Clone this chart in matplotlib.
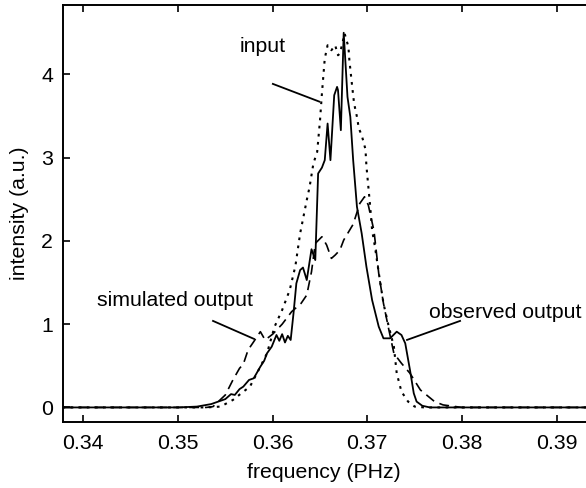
import matplotlib
matplotlib.use("Agg")
import matplotlib.pyplot as plt

plt.rcParams['font.family'] = ['Liberation Sans', 'DejaVu Sans']

# observed output (solid)
obs_x = [0.3378, 0.3500, 0.3520, 0.3535, 0.3550, 0.3556, 0.3560, 0.3565, 0.3569, 0.3575,
         0.3580, 0.3584, 0.3587, 0.3591, 0.3594, 0.3599, 0.3604, 0.3607, 0.3610, 0.3613,
         0.3616, 0.3619, 0.3622, 0.3625, 0.3629, 0.3632, 0.3636, 0.3641, 0.3645, 0.3648,
         0.3652, 0.3655, 0.3658, 0.3661, 0.3665, 0.3668, 0.3669, 0.3672, 0.3675, 0.3679,
         0.3682, 0.3685, 0.3689, 0.3694, 0.3699, 0.3705, 0.3712, 0.3717, 0.3724, 0.3731,
         0.3736, 0.3740, 0.3745, 0.3749, 0.3752, 0.3758, 0.3766, 0.3935]
obs_y = [0.0, 0.0, 0.01, 0.04, 0.10, 0.16, 0.15, 0.22, 0.25, 0.33,
         0.35, 0.43, 0.49, 0.56, 0.65, 0.73, 0.87, 0.80, 0.88, 0.78,
         0.86, 0.81, 1.13, 1.49, 1.65, 1.68, 1.53, 1.90, 1.77, 2.81,
         2.88, 2.97, 3.41, 2.97, 3.75, 3.85, 3.81, 3.33, 4.50, 3.73,
         3.49, 2.97, 2.41, 2.09, 1.69, 1.29, 0.97, 0.83, 0.83, 0.91,
         0.87, 0.77, 0.45, 0.17, 0.07, 0.02, 0.0, 0.0]

# input (dotted)
inp_x = [0.3378, 0.3530, 0.3545, 0.3558, 0.3568, 0.3576, 0.3587, 0.3594, 0.3602, 0.3610,
         0.3618, 0.3624, 0.3629, 0.3636, 0.3639, 0.3643, 0.3647, 0.3650, 0.3652, 0.3654,
         0.3655, 0.3658, 0.3662, 0.3666, 0.3669, 0.3671, 0.3676, 0.3680, 0.3681, 0.3684,
         0.3686, 0.3689, 0.3691, 0.3694, 0.3698, 0.3699, 0.3703, 0.3705, 0.3708, 0.3712,
         0.3717, 0.3722, 0.3728, 0.3731, 0.3736, 0.3743, 0.3750, 0.3760, 0.3935]
inp_y = [0.0, 0.0, 0.01, 0.09, 0.18, 0.25, 0.49, 0.65, 0.97, 1.17,
         1.41, 1.70, 2.09, 2.49, 2.65, 2.93, 3.07, 3.45, 3.77, 4.05,
         4.19, 4.35, 4.29, 4.35, 4.23, 4.25, 4.49, 4.33, 4.17, 3.85,
         3.65, 3.49, 3.35, 3.27, 3.10, 2.90, 2.41, 2.13, 1.93, 1.62,
         1.25, 1.00, 0.73, 0.41, 0.19, 0.07, 0.01, 0.0, 0.0]

# simulated output (dashed)
sim_x = [0.3378, 0.3530, 0.3537, 0.3550, 0.3558, 0.3565, 0.3569, 0.3574, 0.3580, 0.3587,
         0.3592, 0.3600, 0.3610, 0.3620, 0.3630, 0.3636, 0.3641, 0.3645, 0.3652, 0.3657,
         0.3662, 0.3666, 0.3671, 0.3675, 0.3685, 0.3692, 0.3697, 0.3701, 0.3707, 0.3712,
         0.3717, 0.3722, 0.3728, 0.3736, 0.3745, 0.3756, 0.3771, 0.3780, 0.3800, 0.3935]
sim_y = [0.0, 0.0, 0.01, 0.15, 0.33, 0.47, 0.52, 0.69, 0.79, 0.91,
         0.81, 0.88, 1.00, 1.15, 1.25, 1.35, 1.63, 1.97, 2.05, 1.95,
         1.79, 1.83, 1.89, 2.01, 2.20, 2.45, 2.53, 2.43, 2.12, 1.61,
         1.25, 0.97, 0.65, 0.53, 0.41, 0.21, 0.07, 0.03, 0.0, 0.0]

x_ticks = [0.34, 0.35, 0.36, 0.37, 0.38, 0.39]
x_tick_labels = ['0.34', '0.35', '0.36', '0.37', '0.38', '0.39']
y_ticks = [0, 1, 2, 3, 4]
y_tick_labels = ['0', '1', '2', '3', '4']

FS = 15.3

fig = plt.figure(figsize=(5.86, 4.88), dpi=100)
ax = fig.add_axes([0.107, 0.136, 0.893, 0.854])

ax.plot(obs_x, obs_y, color='black', lw=1.3, ls='-')
ax.plot(inp_x, inp_y, color='black', lw=1.5, ls=(0, (1.3, 2.6)))
ax.plot(sim_x, sim_y, color='black', lw=1.2, ls=(0, (6, 3.5)))

ax.set_xlim(0.337824, 0.39309)
ax.set_ylim(-0.1706, 4.835)
ax.set_xticks(x_ticks)
ax.set_xticklabels(x_tick_labels)
ax.set_yticks(y_ticks)
ax.set_yticklabels(y_tick_labels)
ax.tick_params(direction='in', length=5, width=1.2, labelsize=FS, top=True, right=False,
               colors='black')
ax.tick_params(axis='x', pad=9)
ax.tick_params(axis='y', pad=7)
for side in ['left', 'top', 'bottom']:
    ax.spines[side].set_linewidth(1.4)
ax.spines['right'].set_visible(False)

ax.set_xlabel('frequency (PHz)', fontsize=FS, labelpad=7)
ax.set_ylabel('intensity (a.u.)', fontsize=FS, labelpad=9)

# annotations (text + leader lines in data coordinates)
ax.text(0.35898, 4.34, 'input', fontsize=FS, ha='center', va='center')
ax.plot([0.36002, 0.36493], [3.886, 3.673], color='black', lw=1.3)
ax.text(0.34969, 1.29, 'simulated output', fontsize=FS, ha='center', va='center')
ax.plot([0.35370, 0.35803], [1.039, 0.823], color='black', lw=1.3)
ax.text(0.38454, 1.135, 'observed output', fontsize=FS, ha='center', va='center')
ax.plot([0.37979, 0.37419], [1.039, 0.811], color='black', lw=1.3)

fig.savefig('out.png', dpi=100)
